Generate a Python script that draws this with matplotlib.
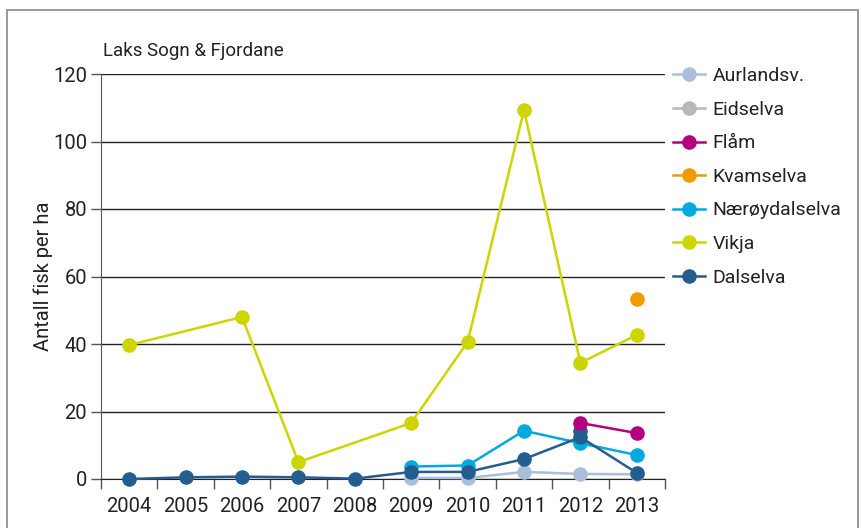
import numpy as np
import matplotlib.pyplot as plt
from matplotlib.lines import Line2D
from matplotlib.patches import Rectangle

plt.rcParams['font.family'] = ['Roboto', 'DejaVu Sans']

years = ['2004', '2005', '2006', '2007', '2008', '2009', '2010', '2011', '2012', '2013']
nan = np.nan

aurlandsv = [nan, nan, nan, nan, nan, 0.3, 0.3, 2.1, 1.5, 1.4]
eidselva = [nan] * 10
flaam = [nan, nan, nan, nan, nan, nan, nan, nan, 16.6, 13.6]
kvamselva = [nan, nan, nan, nan, nan, nan, nan, nan, nan, 53.3]
naeroydalselva = [nan, nan, nan, nan, nan, 3.7, 4.0, 14.3, 10.6, 7.1]
vikja = [39.7, nan, 48.0, 5.0, nan, 16.6, 40.6, 109.3, 34.4, 42.7]
dalselva = [0.0, 0.5, 0.7, 0.5, 0.1, 2.1, 2.1, 5.9, 12.4, 1.8]
dalselva_ekstra = [nan, nan, nan, nan, nan, nan, nan, nan, 14.2, nan]

serier = [
    ('Aurlandsv.', aurlandsv, '#a9bedb'),
    ('Eidselva', eidselva, '#b9b9b9'),
    ('Flåm', flaam, '#b4007e'),
    ('Kvamselva', kvamselva, '#f39a00'),
    ('Nærøydalselva', naeroydalselva, '#00a9e0'),
    ('Vikja', vikja, '#cdd500'),
    ('Dalselva', dalselva, '#245d90'),
]

fig = plt.figure(figsize=(8.61, 5.28), dpi=100)
ax = fig.add_axes([101 / 861, 1 - 479 / 528, 564 / 861, 405 / 528])

x = np.arange(len(years))

def tegn(verdier, farge, z):
    v = np.array(verdier, dtype=float)
    m = ~np.isnan(v)
    ax.plot(x[m], v[m], color=farge, lw=1.8, marker='o', ms=10.5,
            mec='none', clip_on=False, zorder=z)

for i, (navn, verdier, farge) in enumerate(serier):
    if navn == 'Flåm':
        tegn(dalselva_ekstra, '#245d90', 3 + i - 0.5)
    tegn(verdier, farge, 3 + i)

ax.set_xlim(-0.5, 9.5)
ax.set_ylim(0, 120)
ax.set_yticks(range(0, 121, 20))
ax.set_xticks(x)
ax.set_xticklabels(years)
ax.set_xticks(np.arange(-0.5, 10, 1), minor=True)
ax.tick_params(axis='x', which='major', length=0, pad=13, labelsize=14.5, colors='#222222')
ax.tick_params(axis='x', which='minor', length=7, width=1, color='#555555')
ax.tick_params(axis='y', length=7, width=1, color='#555555', labelsize=14.5,
               labelcolor='#222222', pad=3)
ax.yaxis.grid(True, color='#222222', lw=1)
ax.set_axisbelow(True)
for s in ['top', 'right']:
    ax.spines[s].set_visible(False)
ax.spines['left'].set_color('#555555')
ax.spines['bottom'].set_color('#222222')

ax.set_ylabel('Antall fisk per ha', fontsize=14.5, color='#222222', labelpad=0)
ax.text(0.003, 1.035, 'Laks Sogn & Fjordane', transform=ax.transAxes,
        fontsize=13.5, color='#222222', ha='left', va='bottom')

handles = [Line2D([0], [0], color=f, lw=1.8, marker='o', ms=10.5, mec='none')
           for _, _, f in serier]
labels = [n for n, _, _ in serier]
leg = ax.legend(handles, labels, loc='upper left', bbox_to_anchor=(1.0, 1.036),
                frameon=False, fontsize=14, handlelength=1.65, handletextpad=0.4,
                labelspacing=0.8, borderaxespad=0)
for t in leg.get_texts():
    t.set_color('#222222')

fig.patches.append(Rectangle((7 / 861, -0.1), 851 / 861, 1.1 - 10 / 528,
                             transform=fig.transFigure, fill=False,
                             edgecolor='#888888', lw=1.2))

fig.savefig('out.png', dpi=100)
